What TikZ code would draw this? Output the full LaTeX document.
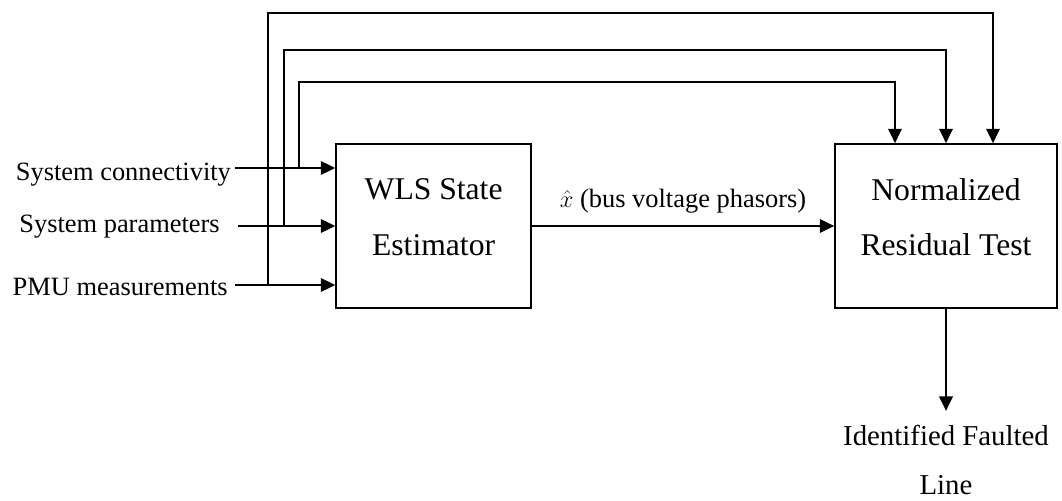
\documentclass[tikz,border=0pt]{standalone}
\usepackage{fontspec}
\setmainfont{Liberation Serif}
\usepackage{tikz}
\usetikzlibrary{arrows.meta, positioning, calc}
\tikzset{
  blk/.style  = {rectangle, draw, line width=1.2pt, minimum width=#1,
                 minimum height=4.1cm, align=center, inner sep=0pt,
                 font=\fontsize{22.5}{39.8}\selectfont,
                 execute at end node={\rule[-0.45cm]{0pt}{0pt}}},
  blk/.default = 4.875cm,
  lbl/.style  = {inner sep=0pt, font=\fontsize{18.8}{22}\selectfont},
  outlbl/.style = {inner sep=0pt, align=center,
                 font=\fontsize{20.5}{35}\selectfont},
  arr/.style  = {-{Triangle[length=0.36cm, width=0.34cm]}, line width=1.2pt},
}

\begin{document}
\begin{tikzpicture}
  \useasboundingbox (0,0) rectangle (26.55,-12.525);

  %% --- blocks ---
  \node[blk] (wls) at (10.84,-5.65) {WLS State\\Estimator};
  \node[blk=5.55cm] (nrt) at (23.65,-5.65) {Normalized\\Residual Test};

  %% --- inputs ---
  \node[lbl, anchor=base east] (conn) at (5.78,-4.5)   {System connectivity};
  \node[lbl, anchor=base east] (par)  at (5.50,-5.8)   {System parameters};
  \node[lbl, anchor=base east] (pmu)  at (5.70,-7.375) {PMU measurements};

  \coordinate (c1) at (5.875,-4.2);
  \coordinate (c2) at (5.95,-5.65);
  \coordinate (c3) at (5.875,-7.125);
  \draw[arr] (c1) -- (c1 -| wls.west);
  \draw[arr] (c2) -- (c2 -| wls.west);
  \draw[arr] (c3) -- (c3 -| wls.west);

  %% --- taps to the residual test ---
  \coordinate (t1) at (7.475,-4.2);
  \coordinate (t2) at (7.1,-5.65);
  \coordinate (t3) at (6.7,-7.125);
  \draw[arr] (t1) -- ++(0,2.15) -| ([xshift=-1.275cm]nrt.north);
  \draw[arr] (t2) -- ++(0,4.4)  -| (nrt.north);
  \draw[arr] (t3) -- ++(0,6.8)  -| ([xshift=1.175cm]nrt.north);

  %% --- estimate ---
  \draw[arr] (wls.east) -- node[lbl, above=0.3cm] (xhat)
        {$\hat{x}$ (bus voltage phasors)} (nrt.west);

  %% --- output ---
  \draw[arr] (nrt.south) -- ++(0,-2.55) coordinate (oend);
  \node[outlbl, below=0.34cm of oend] (fault) {Identified Faulted\\Line};

\end{tikzpicture}
\end{document}
